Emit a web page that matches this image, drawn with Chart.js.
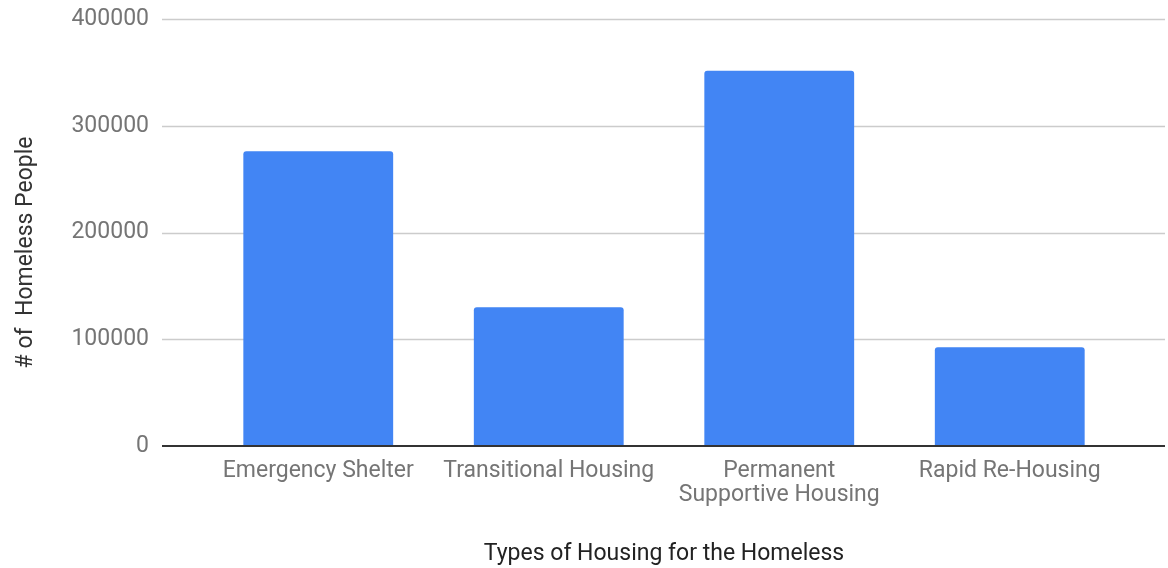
<!DOCTYPE html>
<html>
<head>
<meta charset="utf-8">
<script src="https://cdn.jsdelivr.net/npm/chart.js@4/dist/chart.umd.min.js"></script>
<style>
  html, body { margin: 0; padding: 0; background: #fff; }
  #wrap { width: 1168px; height: 568px; }
</style>
</head>
<body>
<div id="wrap"><canvas id="chart"></canvas></div>
<script>
// Values
const categories = [
  'Emergency Shelter',
  'Transitional Housing',
  ['Permanent', 'Supportive Housing'],
  'Rapid Re-Housing',
];
const homelessPeople = [276000, 130000, 351500, 92500];
const yTicks = [0, 100000, 200000, 300000, 400000];

const xTitle = 'Types of Housing for the Homeless';
const yTitle = '# of  Homeless People';

// Horizontal grid spans wider than the bar area (Google Sheets look)
const gridExtend = {
  id: 'gridExtend',
  beforeDatasetsDraw(chart) {
    const { ctx, chartArea, scales: { y } } = chart;
    ctx.save();
    ctx.strokeStyle = '#cccccc';
    ctx.lineWidth = 1.5;
    y.ticks.forEach(t => {
      if (t.value === 0) return;
      const py = Math.round(y.getPixelForValue(t.value)) + 0.5;
      ctx.beginPath();
      ctx.moveTo(chartArea.left - 41, py);
      ctx.lineTo(chartArea.right + 40, py);
      ctx.stroke();
    });
    ctx.restore();
  },
  afterDatasetsDraw(chart) {
    const { ctx, chartArea, scales: { y } } = chart;
    const py = y.getPixelForValue(0);
    ctx.save();
    ctx.strokeStyle = '#333333';
    ctx.lineWidth = 2;
    ctx.beginPath();
    ctx.moveTo(chartArea.left - 41, py);
    ctx.lineTo(chartArea.right + 40, py);
    ctx.stroke();
    ctx.restore();
  },
};

new Chart(document.getElementById('chart'), {
  type: 'bar',
  data: {
    labels: categories,
    datasets: [{
      data: homelessPeople,
      backgroundColor: '#4285f4',
      borderRadius: { topLeft: 3, topRight: 3 },
      borderSkipped: 'bottom',
      barPercentage: 0.65,
      categoryPercentage: 1,
    }],
  },
  options: {
    responsive: true,
    maintainAspectRatio: false,
    animation: false,
    layout: { padding: { top: 19, right: 43, left: 0, bottom: 0 } },
    plugins: {
      legend: { display: false },
      tooltip: { enabled: false },
    },
    scales: {
      x: {
        grid: { display: false },
        border: { display: false },
        ticks: {
          color: '#757575',
          font: { family: 'Roboto', size: 23, lineHeight: 1.05 },
          maxRotation: 0,
          autoSkip: false,
          padding: 5,
        },
        title: {
          display: true,
          text: xTitle,
          color: '#222222',
          font: { family: 'Roboto', size: 23 },
          padding: { top: 0, bottom: 0 },
        },
        afterFit(scale) {
          scale.height = 122;
          scale.paddingTop = 0;
          scale.paddingBottom = 0;
        },
      },
      y: {
        min: 0,
        max: 400000,
        afterBuildTicks(scale) { scale.ticks = yTicks.map(v => ({ value: v })); },
        grid: { display: false },
        border: { display: false },
        ticks: {
          color: '#757575',
          font: { family: 'Roboto', size: 23 },
          padding: 46,
          callback: v => String(v),
        },
        title: {
          display: true,
          // trailing blanks nudge the centred title a little lower, as in the reference
          text: yTitle + ' '.repeat(7),
          color: '#333333',
          font: { family: 'Roboto', size: 23 },
          padding: { top: 12, bottom: 0 },
        },
        afterFit(scale) {
          scale.width = 203;
          scale.paddingTop = 0;
          scale.paddingBottom = 0;
        },
      },
    },
  },
  plugins: [gridExtend],
});
</script>
</body>
</html>
